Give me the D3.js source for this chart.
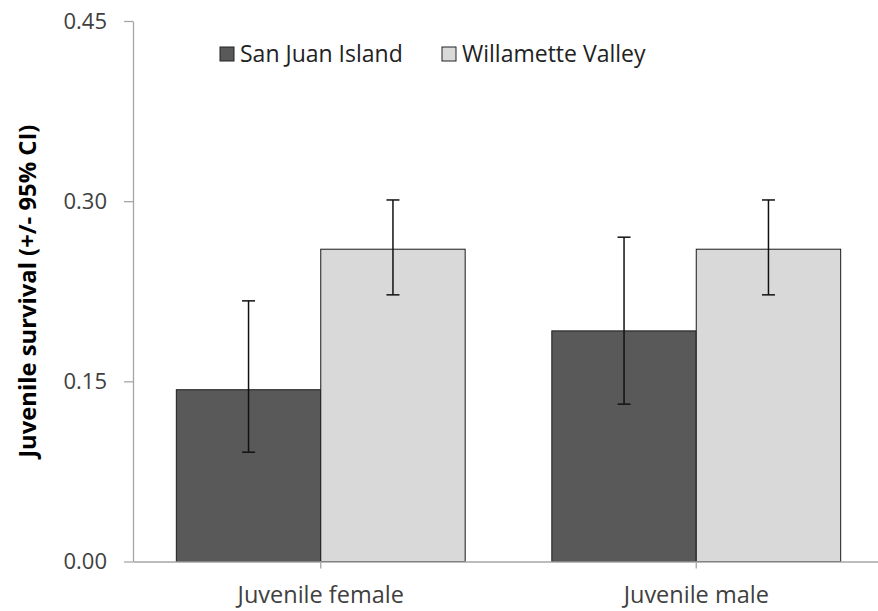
<!DOCTYPE html>
<html>
<head>
<meta charset="utf-8">
<script src="https://cdn.jsdelivr.net/npm/d3@7"></script>
<style>
  html, body { margin: 0; padding: 0; background: #fff; }
  svg { display: block; }
  svg text { font-family: "Open Sans", Lato, sans-serif; }
</style>
</head>
<body>
<svg id="chart" width="878" height="611"></svg>
<script>
// Juvenile survival estimates with 95% confidence intervals
const categories = ["Juvenile female", "Juvenile male"];
const seriesNames = ["San Juan Island", "Willamette Valley"];
const sanJuan = [0.143, 0.192];
const sanJuanLow = [0.091, 0.131];
const sanJuanHigh = [0.217, 0.270];
const willamette = [0.260, 0.260];
const willametteLow = [0.222, 0.222];
const willametteHigh = [0.301, 0.301];
const yTicks = [0.00, 0.15, 0.30, 0.45];
const seriesColors = ["#595959", "#d9d9d9"];

const rows = [];
categories.forEach((c, i) => {
  rows.push({cat: c, series: seriesNames[0], v: sanJuan[i], lo: sanJuanLow[i], hi: sanJuanHigh[i]});
  rows.push({cat: c, series: seriesNames[1], v: willamette[i], lo: willametteLow[i], hi: willametteHigh[i]});
});

const svg = d3.select("#chart");
const plotLeft = 133, plotRight = 884, plotTop = 21, plotBottom = 561.5;

const y = d3.scaleLinear().domain([0, 0.45]).range([plotBottom, plotTop]);
const x0 = d3.scaleBand().domain(categories).range([plotLeft, plotRight]).padding(0);
const x1 = d3.scaleBand().domain(seriesNames).range([0, x0.bandwidth()])
  .paddingInner(0).paddingOuter(0.3);
const color = d3.scaleOrdinal().domain(seriesNames).range(seriesColors);

// Bars
svg.append("g").selectAll("rect").data(rows).join("rect")
  .attr("x", d => x0(d.cat) + x1(d.series))
  .attr("y", d => y(d.v))
  .attr("width", x1.bandwidth())
  .attr("height", d => y(0) - y(d.v))
  .attr("fill", d => color(d.series))
  .attr("stroke", "#1a1a1a")
  .attr("stroke-width", 1);

// Error bars
const capHalf = 6.5;
const eb = svg.append("g").attr("stroke", "#111").attr("stroke-width", 1.5).attr("fill", "none");
rows.forEach(d => {
  const cx = x0(d.cat) + x1(d.series) + x1.bandwidth() / 2;
  eb.append("line").attr("x1", cx).attr("x2", cx).attr("y1", y(d.lo)).attr("y2", y(d.hi));
  eb.append("line").attr("x1", cx - capHalf).attr("x2", cx + capHalf).attr("y1", y(d.hi)).attr("y2", y(d.hi));
  eb.append("line").attr("x1", cx - capHalf).attr("x2", cx + capHalf).attr("y1", y(d.lo)).attr("y2", y(d.lo));
});

// Y axis
const yAxis = svg.append("g").attr("transform", `translate(${plotLeft},0)`)
  .call(d3.axisLeft(y).tickValues(yTicks).tickFormat(d3.format(".2f"))
    .tickSize(9).tickSizeOuter(0).tickPadding(17));
yAxis.attr("font-family", null).attr("font-size", null);
yAxis.select(".domain").attr("stroke", "#a6a6a6").attr("stroke-width", 1.3);
yAxis.selectAll(".tick line").attr("stroke", "#a6a6a6").attr("stroke-width", 1.3);
yAxis.selectAll(".tick text").attr("fill", "#404040").style("font-size", "22px");

// X axis
const xAxis = svg.append("g").attr("transform", `translate(0,${plotBottom})`)
  .call(d3.axisBottom(x0).tickSize(7).tickSizeOuter(0).tickPadding(18));
xAxis.attr("font-family", null).attr("font-size", null);
xAxis.select(".domain").attr("stroke", "#a6a6a6").attr("stroke-width", 1.3);
xAxis.selectAll(".tick line").attr("stroke", "#a6a6a6").attr("stroke-width", 1.3);
xAxis.selectAll(".tick text").attr("fill", "#404040").style("font-size", "23.5px");

// Y axis title
svg.append("text")
  .attr("transform", `translate(27,${(plotTop + plotBottom) / 2}) rotate(-90)`)
  .attr("text-anchor", "middle")
  .attr("dominant-baseline", "central")
  .style("font-size", "23.8px").style("font-weight", "bold")
  .attr("fill", "#000")
  .text("Juvenile survival (+/- 95% CI)");

// Legend
const legendX = [220, 442];
const legend = svg.append("g").selectAll("g").data(seriesNames).join("g")
  .attr("transform", (d, i) => `translate(${legendX[i]},47)`);
legend.append("rect").attr("width", 14).attr("height", 14)
  .attr("fill", d => color(d)).attr("stroke", "#222").attr("stroke-width", 1);
legend.append("text").attr("x", 20).attr("y", 14.5)
  .attr("fill", "#222").style("font-size", "23px")
  .text(d => d);
</script>
</body>
</html>
